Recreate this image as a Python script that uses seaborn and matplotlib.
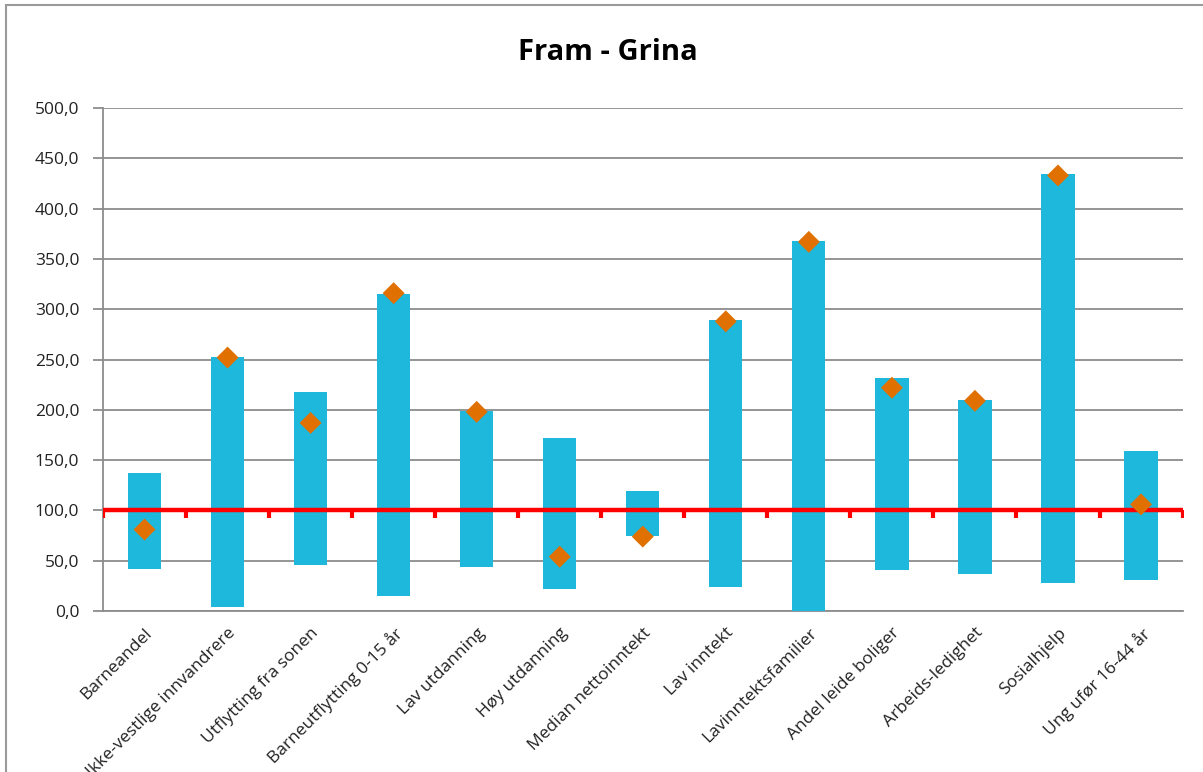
import matplotlib
matplotlib.use("Agg")
import matplotlib.pyplot as plt
import matplotlib.patches as mpatches
import matplotlib.ticker as mticker
import seaborn as sns
import pandas as pd
import numpy as np

categories = [
    "Barneandel", "Ikke-vestlige innvandrere", "Utflytting fra sonen",
    "Barneutflytting 0-15 år", "Lav utdanning", "Høy utdanning",
    "Median nettoinntekt", "Lav inntekt", "Lavinntektsfamilier",
    "Andel leide boliger", "Arbeids-ledighet", "Sosialhjelp",
    "Ung ufør 16-44 år",
]
range_min = [42, 4, 46, 15, 44, 22, 75, 24, 0, 41, 37, 28, 31]
range_max = [137, 253, 218, 315, 199, 172, 119, 289, 368, 232, 210, 434, 159]
zone_value = [81, 252, 187, 316, 198, 54, 74, 288, 367, 222, 209, 433, 106]
reference_level = 100

sns.set_theme(style="white")
plt.rcParams["font.family"] = ["Open Sans", "DejaVu Sans"]

df = pd.DataFrame({
    "kategori": categories,
    "lav": range_min,
    "hoy": range_max,
    "verdi": zone_value,
})
df["spenn"] = df["hoy"] - df["lav"]

fig = plt.figure(figsize=(12.03, 7.72), dpi=100)
ax = fig.add_axes([0.0856, 0.2085, 0.8974, 0.6515])

sns.barplot(data=df, x="kategori", y="spenn", bottom=df["lav"].values,
            color="#1EB8DC", saturation=1, width=0.4, ax=ax,
            edgecolor="none", zorder=3)

# referanselinje ved 100
edges = np.arange(len(categories) + 1) - 0.5
ax.plot(edges, [reference_level] * len(edges), color="#FF0000", lw=3.2,
        marker=3, markersize=6, mew=3, zorder=4, solid_capstyle="butt")

sns.scatterplot(data=df, x="kategori", y="verdi", marker="D", s=125,
                color="#E07000", edgecolor="none", ax=ax, zorder=5)

ax.set_xlim(-0.5, len(categories) - 0.5)
ax.set_ylim(0, 500)
ax.yaxis.set_major_locator(mticker.MultipleLocator(50))
ax.yaxis.set_major_formatter(mticker.FuncFormatter(lambda v, p: f"{v:.1f}".replace(".", ",")))
ax.grid(axis="y", color="#8C8C8C", lw=1.3, zorder=0)
ax.set_axisbelow(True)

for s in ["top", "right"]:
    ax.spines[s].set_visible(False)
for s in ["left", "bottom"]:
    ax.spines[s].set_color("#8C8C8C")
    ax.spines[s].set_linewidth(1.3)

ax.tick_params(axis="y", left=True, length=7, width=1.3, color="#8C8C8C",
               labelsize=12.5, labelcolor="#222222", pad=10)
ax.tick_params(axis="x", bottom=False, labelsize=12.5, labelcolor="#222222", pad=4)
plt.setp(ax.get_xticklabels(), rotation=45, ha="right", rotation_mode="anchor")
ax.set_xlabel("")
ax.set_ylabel("")

fig.text(0.505, 0.932, "Fram - Grina", ha="center", va="center",
         fontsize=21, fontweight="bold", color="#000000")

fig.patches.append(mpatches.Rectangle((6 / 1203, -0.1), 1.2, 1 - 5 / 772 + 0.1,
                                      transform=fig.transFigure, fill=False,
                                      edgecolor="#9A9A9A", lw=1.5))

fig.savefig("out.png", dpi=100)
